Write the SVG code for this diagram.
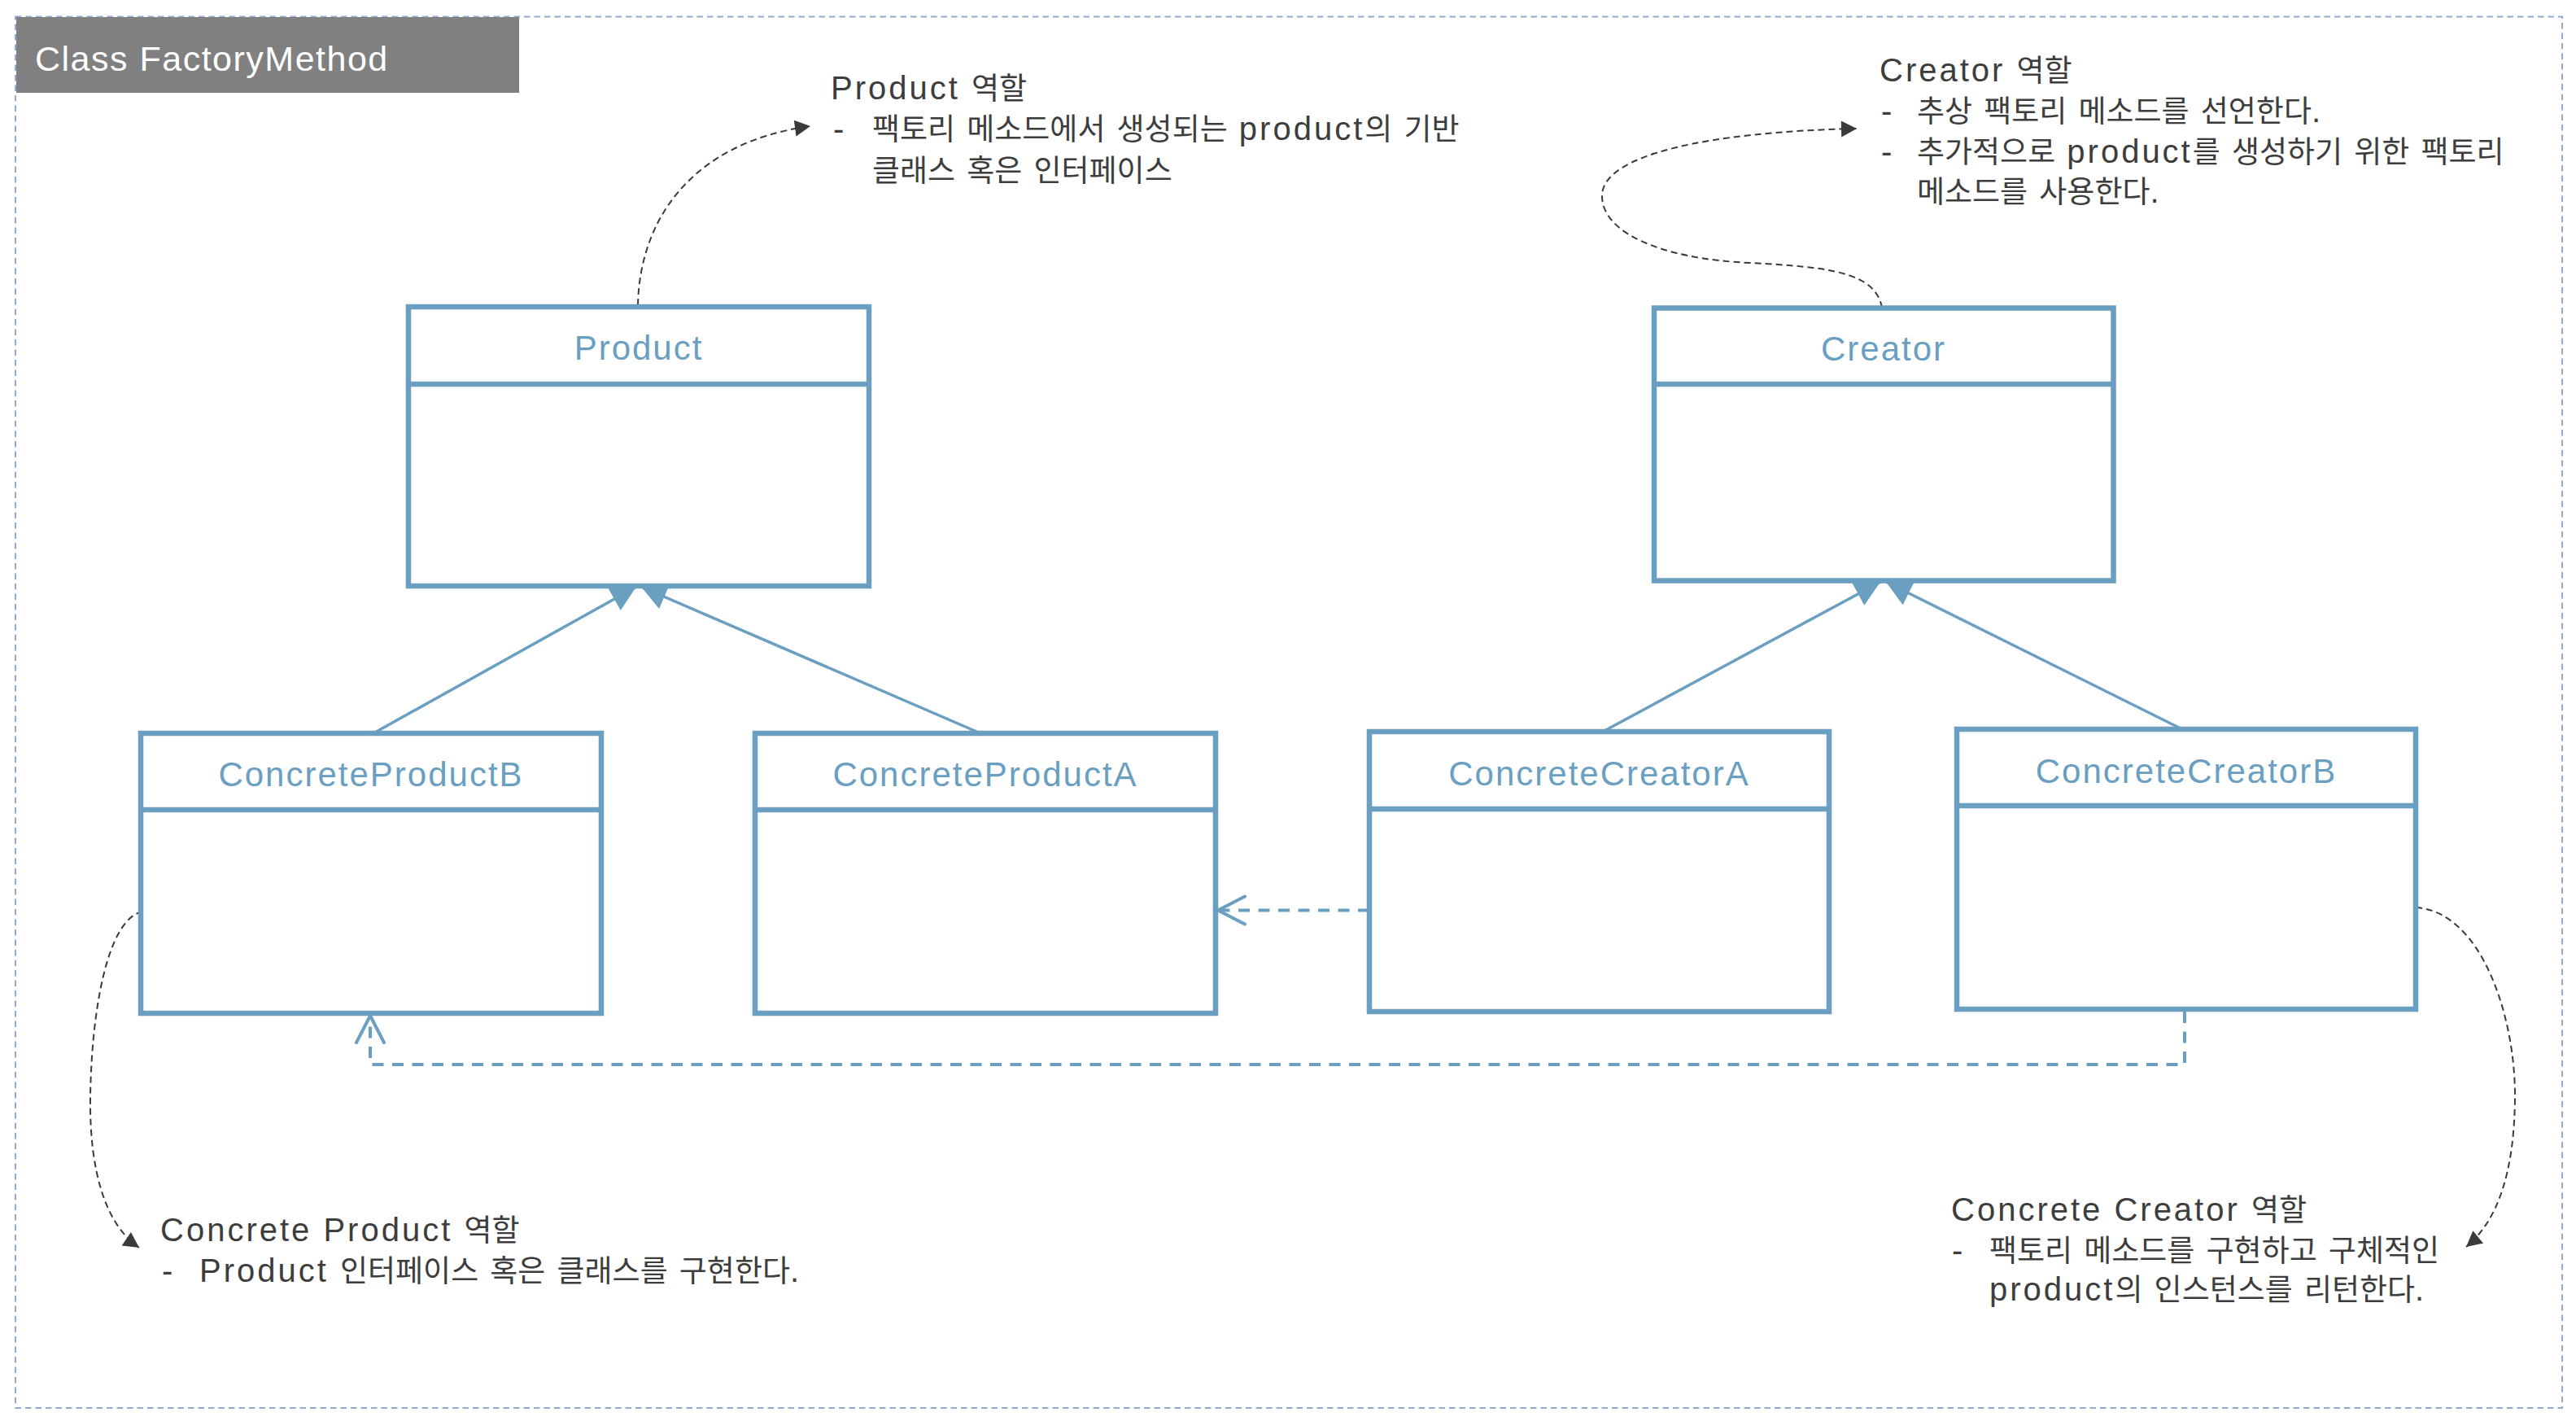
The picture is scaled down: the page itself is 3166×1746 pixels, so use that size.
<svg xmlns="http://www.w3.org/2000/svg" width="3166" height="1746" viewBox="0 0 3166 1746">
<defs>
<style>
.frame{fill:none;stroke:#93aad9;stroke-width:2;stroke-dasharray:7.5 5}
.hdr{fill:#808080}
.hdrt{font-family:"Liberation Sans","Noto Sans CJK KR",sans-serif;font-size:43px;letter-spacing:1.5px;fill:#ffffff}
.box{fill:#ffffff;stroke:#6a9fc1;stroke-width:6.5}
.div{stroke:#6a9fc1;stroke-width:6.5}
.title{font-family:"Liberation Sans",sans-serif;font-size:42px;letter-spacing:2px;fill:#6a9fc1;text-anchor:middle}
.gen{fill:none;stroke:#6a9fc1;stroke-width:3.5;marker-end:url(#block)}
.dep{fill:none;stroke:#6a9fc1;stroke-width:4;stroke-dasharray:14 10.5;marker-end:url(#open)}
.note{fill:none;stroke:#3a3a3a;stroke-width:2;stroke-dasharray:8 5;marker-end:url(#dark)}
.ann{font-family:"Liberation Sans","Noto Sans CJK KR",sans-serif;font-size:40px;letter-spacing:3px;fill:#3d3d3d}
.k{font-family:"Noto Sans CJK KR",sans-serif;font-size:37px;letter-spacing:0px}
</style>
<marker id="block" markerUnits="userSpaceOnUse" markerWidth="40" markerHeight="40" refX="0" refY="0" orient="auto" overflow="visible">
<path d="M-31,-16 L0,0 L-31,16 Z" fill="#6a9fc1"/>
</marker>
<marker id="open" markerUnits="userSpaceOnUse" markerWidth="40" markerHeight="40" refX="0" refY="0" orient="auto" overflow="visible">
<path d="M-33,-17 L0,0 L-33,17" fill="none" stroke="#6a9fc1" stroke-width="4" stroke-linecap="round" stroke-linejoin="round"/>
</marker>
<marker id="dark" markerUnits="userSpaceOnUse" markerWidth="24" markerHeight="24" refX="0" refY="0" orient="auto" overflow="visible">
<path d="M-19,-10 L0,0 L-19,10 Z" fill="#3a3a3a"/>
</marker>
</defs>

<rect x="0" y="0" width="3166" height="1746" fill="#ffffff"/>
<rect class="frame" x="19" y="20.5" width="3130" height="1709.5"/>

<g id="header">
<rect class="hdr" x="20" y="21" width="618" height="93"/>
<text class="hdrt" x="43" y="87">Class FactoryMethod</text>
</g>

<g id="connectors">
<path class="gen" d="M459,901 L782,721"/>
<path class="gen" d="M1205,901 L788,721"/>
<path class="gen" d="M1970,899 L2311,715"/>
<path class="gen" d="M2682,896 L2318,715"/>
<path class="dep" d="M1683,1118.5 H1497"/>
<path class="dep" d="M2685,1243 V1308 H455 V1248"/>
<path class="note" d="M784,375 C786,270 850,175 996,155"/>
<path class="note" d="M2313,378 C2305,335 2250,328 2150,323 C2040,318 1968,285 1969,240 C1970,190 2100,162 2282,158"/>
<path class="note" d="M175,1120 C130,1130 112,1250 111,1350 C110,1440 130,1505 171,1533"/>
<path class="note" d="M2969,1115 C3050,1120 3092,1250 3091,1350 C3090,1440 3070,1500 3031,1532"/>
</g>

<g id="product">
<rect class="box" x="502" y="377" width="566" height="343"/>
<line class="div" x1="502" y1="472" x2="1068" y2="472"/>
<text class="title" x="785" y="442">Product</text>
</g>

<g id="creator">
<rect class="box" x="2033" y="378.5" width="564.5" height="335"/>
<line class="div" x1="2033" y1="472" x2="2597.5" y2="472"/>
<text class="title" x="2315" y="443">Creator</text>
</g>

<g id="concreteProductB">
<rect class="box" x="173" y="901" width="566" height="344"/>
<line class="div" x1="173" y1="995" x2="739" y2="995"/>
<text class="title" x="456" y="966">ConcreteProductB</text>
</g>

<g id="concreteProductA">
<rect class="box" x="928" y="901" width="566" height="344"/>
<line class="div" x1="928" y1="995" x2="1494" y2="995"/>
<text class="title" x="1211" y="966">ConcreteProductA</text>
</g>

<g id="concreteCreatorA">
<rect class="box" x="1683" y="899" width="565" height="344"/>
<line class="div" x1="1683" y1="994" x2="2248" y2="994"/>
<text class="title" x="1965.5" y="964.5">ConcreteCreatorA</text>
</g>

<g id="concreteCreatorB">
<rect class="box" x="2405" y="896" width="564" height="344"/>
<line class="div" x1="2405" y1="990" x2="2969" y2="990"/>
<text class="title" x="2687" y="962">ConcreteCreatorB</text>
</g>

<g id="note-product">
<text class="ann" x="1021" y="122">Product <tspan class="k">역할</tspan></text>
<text class="ann" x="1024" y="172">-</text>
<text class="ann" x="1072" y="172"><tspan class="k">팩토리</tspan> <tspan class="k">메소드에서</tspan> <tspan class="k">생성되는</tspan> product<tspan class="k">의</tspan> <tspan class="k">기반</tspan></text>
<text class="ann" x="1072" y="223"><tspan class="k">클래스</tspan> <tspan class="k">혹은</tspan> <tspan class="k">인터페이스</tspan></text>
</g>

<g id="note-creator">
<text class="ann" x="2310" y="100">Creator <tspan class="k">역할</tspan></text>
<text class="ann" x="2312" y="150">-</text>
<text class="ann" x="2356" y="150"><tspan class="k">추상</tspan> <tspan class="k">팩토리</tspan> <tspan class="k">메소드를</tspan> <tspan class="k">선언한다</tspan>.</text>
<text class="ann" x="2312" y="200">-</text>
<text class="ann" x="2356" y="200"><tspan class="k">추가적으로</tspan> product<tspan class="k">를</tspan> <tspan class="k">생성하기</tspan> <tspan class="k">위한</tspan> <tspan class="k">팩토리</tspan></text>
<text class="ann" x="2356" y="249"><tspan class="k">메소드를</tspan> <tspan class="k">사용한다</tspan>.</text>
</g>

<g id="note-concrete-product">
<text class="ann" x="197" y="1525">Concrete Product <tspan class="k">역할</tspan></text>
<text class="ann" x="199" y="1575">-</text>
<text class="ann" x="245" y="1575">Product <tspan class="k">인터페이스</tspan> <tspan class="k">혹은</tspan> <tspan class="k">클래스를</tspan> <tspan class="k">구현한다</tspan>.</text>
</g>

<g id="note-concrete-creator">
<text class="ann" x="2398" y="1500">Concrete Creator <tspan class="k">역할</tspan></text>
<text class="ann" x="2399" y="1550">-</text>
<text class="ann" x="2445" y="1550"><tspan class="k">팩토리</tspan> <tspan class="k">메소드를</tspan> <tspan class="k">구현하고</tspan> <tspan class="k">구체적인</tspan></text>
<text class="ann" x="2445" y="1598">product<tspan class="k">의</tspan> <tspan class="k">인스턴스를</tspan> <tspan class="k">리턴한다</tspan>.</text>
</g>
</svg>
